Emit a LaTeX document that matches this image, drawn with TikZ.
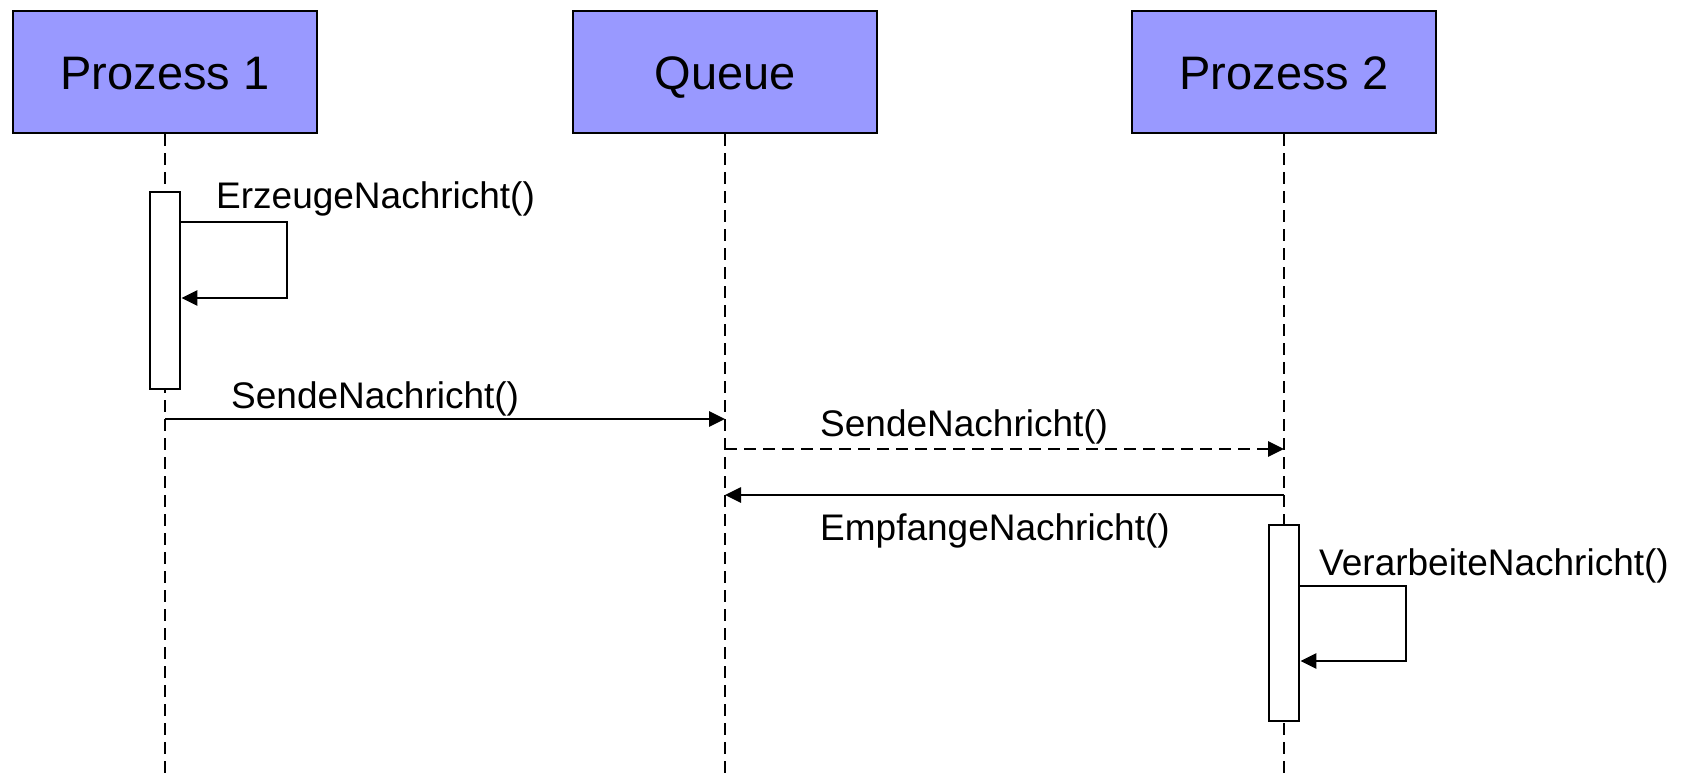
\documentclass[tikz,border=0pt]{standalone}
\usepackage{fontspec}
\setmainfont{Liberation Sans}
\usetikzlibrary{arrows.meta}
\definecolor{headfill}{HTML}{9999FF}
\begin{document}
\begin{tikzpicture}[x=1pt,y=-1pt,
  head/.style={draw=black,fill=headfill,line width=2.8pt,minimum width=304pt,
    minimum height=122pt,inner sep=0pt,text height=34pt,text depth=0pt,
    font=\fontsize{47}{50}\selectfont},
  lifeline/.style={line width=2.6pt,dash pattern=on 12pt off 7pt},
  actbox/.style={draw=black,fill=white,line width=2.8pt,minimum width=30pt,inner sep=0pt},
  msg/.style={line width=2.7pt,-{Triangle[length=16pt,width=15pt]}},
  msgdashed/.style={msg,dash pattern=on 12pt off 7pt},
  msglabel/.style={anchor=base west,inner sep=0pt,font=\fontsize{37}{40}\selectfont}]
\useasboundingbox (0,0) rectangle (1681,777);

% participants
\node[head] (p1) at (165,72) {Prozess 1};
\node[head] (q)  at (725,72) {Queue};
\node[head] (p2) at (1284,72) {Prozess 2};

% lifeline ends
\coordinate (p1end) at (165,777);
\coordinate (qend)  at (725,777);
\coordinate (p2end) at (1284,777);

\draw[lifeline] (p1.south) -- (p1end);
\draw[lifeline] (q.south) -- (qend);
\draw[lifeline] (p2.south) -- (p2end);

% activation bars
\node[actbox,minimum height=197pt] (act1) at (165,290.5) {};
\node[actbox,minimum height=196pt] (act2) at (1284,623) {};

% self call on Prozess 1
\coordinate (s1top) at (287,222);
\coordinate (s1bot) at (287,298);
\draw[msg] (act1.east |- s1top) -- (s1top) -- (s1bot) -- (act1.east |- s1bot);
\node[msglabel] (l1) at (216,208) {ErzeugeNachricht()};

% Prozess 1 -> Queue
\coordinate (m1) at (0,419);
\draw[msg] (p1 |- m1) -- (q |- m1);
\node[msglabel] (l2) at (231,408) {SendeNachricht()};

% Queue -> Prozess 2 (dashed)
\coordinate (m2) at (0,449);
\draw[msgdashed] (q |- m2) -- (p2 |- m2);
\node[msglabel] (l3) at (820,436) {SendeNachricht()};

% Prozess 2 -> Queue
\coordinate (m3) at (0,495);
\draw[msg] (p2 |- m3) -- (q |- m3);
\node[msglabel] (l4) at (820,540) {EmpfangeNachricht()};

% self call on Prozess 2
\coordinate (s2top) at (1406,586);
\coordinate (s2bot) at (1406,661);
\draw[msg] (act2.east |- s2top) -- (s2top) -- (s2bot) -- (act2.east |- s2bot);
\node[msglabel] (l5) at (1319,575) {VerarbeiteNachricht()};
\end{tikzpicture}
\end{document}
